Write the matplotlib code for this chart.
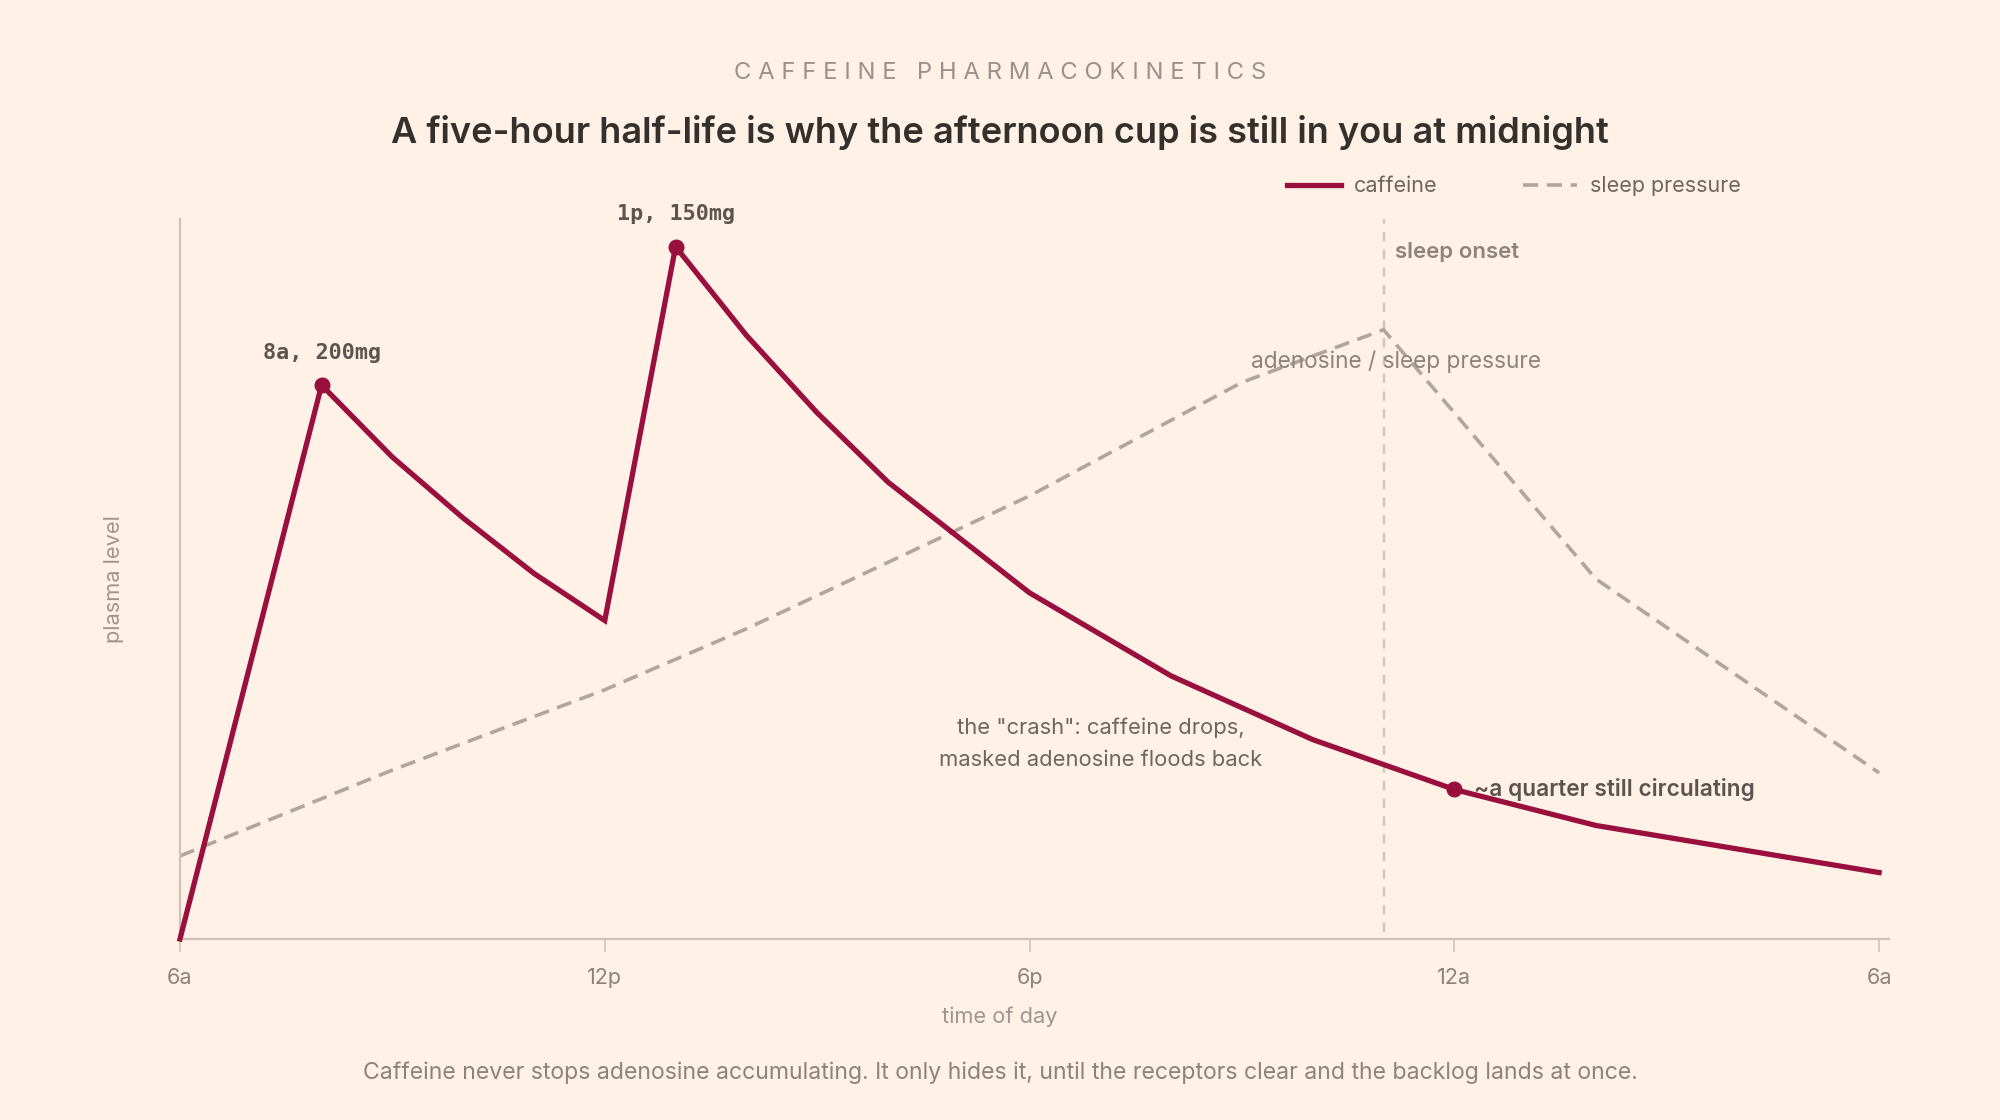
"""Caffeine pharmacokinetics vs. sleep pressure over one day."""

import matplotlib

matplotlib.use("Agg")
import matplotlib.pyplot as plt

# Data: hours after 6a
caffeine_hours = [0, 2, 3, 4, 5, 6, 7, 8, 9, 10, 12, 14, 16, 18, 20, 24]
caffeine_mg = [0, 200, 174, 152, 132, 115, 250, 218, 190, 165, 125, 95, 72, 54, 41, 24]

pressure_hours = [0, 3, 6, 8, 12, 15, 17, 20, 24]
pressure_level = [30, 61, 90, 112, 160, 201, 220, 130, 60]

tick_hours = [0, 6, 12, 18, 24]
tick_labels = ["6a", "12p", "6p", "12a", "6a"]

dose_hours = [2, 7]
dose_mg = [200, 250]
dose_labels = ["8a, 200mg", "1p, 150mg"]

sleep_onset_hour = 17
midnight_hour = 18
midnight_mg = 54

# Colours
BG = "#FFF1E6"
CLARET = "#990F3D"
PRESSURE = "#B0A69E"
SPINE = "#CEC3BA"
ONSET = "#CFC5BD"

plt.rcParams["font.family"] = ["Inter", "DejaVu Sans"]

fig = plt.figure(figsize=(20, 11.2), dpi=100, facecolor=BG)
ax = fig.add_axes([0.09, 0.1616, 0.8545, 0.6429], facecolor=BG)

# sleep onset marker
ax.axvline(sleep_onset_hour, ymin=0.01, ymax=1, color=ONSET, lw=1.7, dashes=(4, 3.5), zorder=1)

# lines
ax.plot(pressure_hours, pressure_level, color=PRESSURE, lw=2.6, dashes=(4.2, 2.4),
        label="sleep pressure", zorder=2)
ax.plot(caffeine_hours, caffeine_mg, color=CLARET, lw=3.8, label="caffeine",
        solid_joinstyle="miter", zorder=3, clip_on=False)

# dose markers + labels
ax.plot(dose_hours, dose_mg, "o", color=CLARET, ms=10.5, zorder=4)
for h, mg, lab in zip(dose_hours, dose_mg, dose_labels):
    ax.annotate(lab, (h, mg), xytext=(0, 19), textcoords="offset points",
                ha="center", va="baseline", fontsize=15.7, fontweight="bold",
                family="DejaVu Sans Mono", color="#5C5450")

# midnight marker
ax.plot([midnight_hour], [midnight_mg], "o", color=CLARET, ms=10.5, zorder=4)
ax.annotate("~a quarter still circulating", (midnight_hour, midnight_mg), xytext=(14.5, 0),
            textcoords="offset points", ha="left", va="center", fontsize=16.3,
            fontweight="semibold", color="#5C5450", zorder=5)

ax.annotate("sleep onset", (sleep_onset_hour, 248), xytext=(8, 0), textcoords="offset points",
            ha="left", va="center", fontsize=16, fontweight="semibold", color="#8C837C")
ax.text(17.17, 208.5, "adenosine / sleep pressure", ha="center", va="center",
        fontsize=16.3, color="#8C837C", zorder=5)
ax.text(13.0, 70.5, 'the "crash": caffeine drops,\nmasked adenosine floods back',
        ha="center", va="center", fontsize=15.8, color="#6E655F", linespacing=1.72)

# axes styling
ax.set_xlim(0, 24.14)
ax.set_ylim(0, 260)
for side in ["top", "right"]:
    ax.spines[side].set_visible(False)
for side in ["left", "bottom"]:
    ax.spines[side].set_color(SPINE)
    ax.spines[side].set_linewidth(1.6)
ax.set_yticks([])
ax.set_xticks(tick_hours)
ax.set_xticklabels(tick_labels)
ax.tick_params(axis="x", length=9, width=1.2, color=SPINE, pad=12,
               labelsize=15.5, labelcolor="#8C837C")
ax.set_ylabel("plasma level", fontsize=15.7, color="#A0968F", labelpad=40)
# x label sits at the figure centre, not the axes centre
fig.text(0.5, 1 - 1017 / 1120, "time of day", ha="center", va="center",
         fontsize=15.7, color="#A0968F")

# legend
fig.legend(loc="center right", bbox_to_anchor=(0.8705, 0.8335), ncol=2, frameon=False,
           fontsize=15.5, labelcolor="#6E655F", handlelength=2.5, handletextpad=0.6,
           columnspacing=4.0, borderpad=0, borderaxespad=0,
           handles=ax.get_lines()[2:0:-1])

# titles
fig.text(0.5, 0.9292, "C A F F E I N E   P H A R M A C O K I N E T I C S", ha="center",
         va="baseline", fontsize=17.2, color="#9B918A")
fig.text(0.5, 0.8723, "A five-hour half-life is why the afternoon cup is still in you at midnight",
         ha="center", va="baseline", fontsize=26, fontweight="semibold", color="#33302E")
fig.text(0.5, 1 - 1073 / 1120, "Caffeine never stops adenosine accumulating. It only hides it, "
         "until the receptors clear and the backlog lands at once.", ha="center", va="center",
         fontsize=16.6, color="#8C837C")

fig.savefig("out.png", dpi=100, facecolor=BG)
